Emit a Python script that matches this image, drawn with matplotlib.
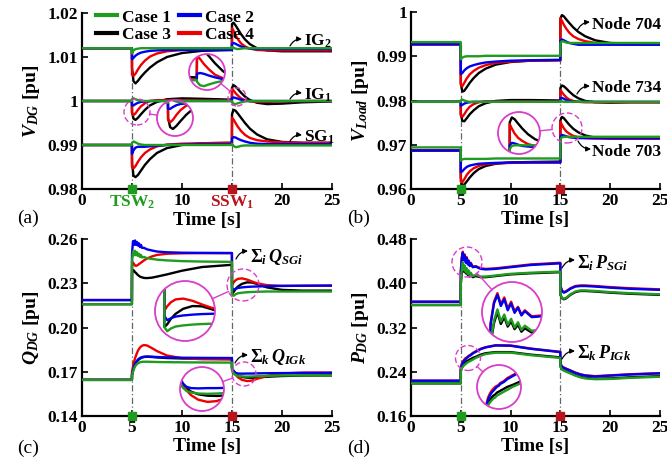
import numpy as np
import matplotlib
matplotlib.use('Agg')
import matplotlib.pyplot as plt
from matplotlib.patches import Circle, Ellipse
from matplotlib.lines import Line2D

plt.rcParams['font.family'] = ['Liberation Serif', 'DejaVu Serif']
plt.rcParams['font.weight'] = 'bold'
plt.rcParams['axes.labelweight'] = 'bold'
plt.rcParams['mathtext.fontset'] = 'custom'
plt.rcParams['mathtext.rm'] = 'Liberation Serif:bold'
plt.rcParams['mathtext.it'] = 'Liberation Serif:italic:bold'
plt.rcParams['mathtext.bf'] = 'Liberation Serif:bold'

# ---------------- data ----------------
cases = ['Case 1', 'Case 2', 'Case 3', 'Case 4']
case_colors = ['#1f9b1f', '#0000ee', '#000000', '#ee0000']

# time samples for panels (a), (b)
t1 = [0, 4.99, 5.0, 5.15, 5.35, 5.6, 5.9, 6.3, 6.8, 7.5, 8.5, 10, 12, 14.99,
      15.0, 15.15, 15.35, 15.6, 15.9, 16.3, 16.8, 17.5, 18.5, 20, 22, 25]

a_ig2 = [
    [1.012, 1.012, 1.0108, 1.0115, 1.0118, 1.0119, 1.012, 1.012, 1.012, 1.012, 1.012, 1.012, 1.012, 1.012,
     1.0123, 1.0121, 1.0119, 1.0118, 1.0119, 1.012, 1.012, 1.012, 1.012, 1.012, 1.012, 1.012],
    [1.012, 1.012, 1.0095, 1.0098, 1.0103, 1.0107, 1.0110, 1.0112, 1.0114, 1.0115, 1.0116, 1.0116, 1.0116, 1.0116,
     1.0130, 1.0132, 1.0130, 1.0127, 1.0124, 1.0121, 1.0119, 1.0118, 1.0118, 1.0118, 1.0118, 1.0118],
    [1.012, 1.012, 1.0075, 1.0045, 1.0040, 1.0046, 1.0055, 1.0065, 1.0076, 1.0088, 1.0100, 1.0109, 1.0114, 1.0116,
     1.0175, 1.0178, 1.0172, 1.0163, 1.0152, 1.0140, 1.0129, 1.0120, 1.0115, 1.0113, 1.0113, 1.0113],
    [1.012, 1.012, 1.0060, 1.0057, 1.0062, 1.0072, 1.0082, 1.0092, 1.0101, 1.0108, 1.0113, 1.0116, 1.0117, 1.0118,
     1.0165, 1.0160, 1.0150, 1.0140, 1.0131, 1.0124, 1.0119, 1.0116, 1.0115, 1.0115, 1.0115, 1.0115],
]
a_ig1 = [
    [1.0, 1.0, 1.0004, 1.0006, 1.0004, 1.0002, 1.0001, 1.0, 1.0, 1.0, 1.0, 1.0, 1.0, 1.0,
     0.9998, 0.9994, 0.9993, 0.9995, 0.9997, 0.9999, 1.0, 1.0, 1.0, 1.0, 1.0, 1.0],
    [1.0, 1.0, 0.9990, 0.9990, 0.9993, 0.9996, 0.9998, 0.9999, 1.0, 1.0, 1.0, 1.0, 1.0, 1.0,
     1.0007, 1.0008, 1.0007, 1.0005, 1.0003, 1.0001, 1.0, 1.0, 1.0, 1.0, 1.0, 1.0],
    [1.0, 1.0, 0.9975, 0.9960, 0.9957, 0.9962, 0.9970, 0.9980, 0.9990, 0.9998, 1.0004, 1.0006, 1.0005, 1.0003,
     1.0030, 1.0036, 1.0033, 1.0027, 1.0019, 1.0010, 1.0002, 0.9996, 0.9993, 0.9994, 0.9997, 0.9999],
    [1.0, 1.0, 0.9972, 0.9968, 0.9972, 0.9980, 0.9988, 0.9995, 1.0, 1.0002, 1.0002, 1.0002, 1.0001, 1.0001,
     1.0028, 1.0024, 1.0018, 1.0012, 1.0006, 1.0002, 0.9999, 0.9998, 0.9998, 0.9999, 1.0, 1.0],
]
a_sg1 = [
    [0.99, 0.99, 0.9905, 0.9908, 0.9906, 0.9903, 0.9901, 0.99, 0.99, 0.99, 0.99, 0.99, 0.99, 0.99,
     0.9903, 0.9898, 0.9895, 0.9896, 0.9898, 0.9899, 0.9899, 0.9899, 0.9899, 0.9899, 0.9899, 0.9899],
    [0.99, 0.99, 0.9880, 0.9888, 0.9894, 0.9896, 0.9896, 0.9896, 0.9897, 0.9898, 0.9900, 0.9901, 0.9902, 0.9902,
     0.9915, 0.9918, 0.9917, 0.9914, 0.9911, 0.9908, 0.9905, 0.9903, 0.9902, 0.9902, 0.9902, 0.9902],
    [0.99, 0.99, 0.9860, 0.9830, 0.9827, 0.9832, 0.9842, 0.9855, 0.9868, 0.9882, 0.9893, 0.9900, 0.9904, 0.9905,
     0.9970, 0.9980, 0.9978, 0.9971, 0.9962, 0.9950, 0.9937, 0.9924, 0.9913, 0.9907, 0.9905, 0.9905],
    [0.99, 0.99, 0.9850, 0.9847, 0.9852, 0.9862, 0.9872, 0.9882, 0.9890, 0.9897, 0.9901, 0.9903, 0.9904, 0.9905,
     0.9962, 0.9958, 0.9950, 0.9941, 0.9932, 0.9923, 0.9916, 0.9911, 0.9908, 0.9906, 0.9905, 0.9905],
]

b_704 = [
    [0.9932, 0.9932, 0.9893, 0.9897, 0.9899, 0.9900, 0.9900, 0.9900, 0.9900, 0.9901, 0.9901, 0.9901, 0.9901, 0.9901,
     0.9930, 0.9934, 0.9933, 0.9931, 0.9930, 0.9930, 0.9930, 0.9930, 0.9930, 0.9930, 0.9930, 0.9930],
    [0.9927, 0.9927, 0.9860, 0.9862, 0.9868, 0.9873, 0.9877, 0.9880, 0.9883, 0.9886, 0.9888, 0.9890, 0.9891, 0.9892,
     0.9935, 0.9938, 0.9936, 0.9933, 0.9930, 0.9928, 0.9926, 0.9926, 0.9926, 0.9926, 0.9926, 0.9926],
    [0.9927, 0.9927, 0.9840, 0.9820, 0.9822, 0.9830, 0.9840, 0.9851, 0.9862, 0.9872, 0.9881, 0.9887, 0.9890, 0.9891,
     0.9985, 0.9993, 0.9990, 0.9983, 0.9975, 0.9965, 0.9955, 0.9945, 0.9936, 0.9930, 0.9928, 0.9927],
    [0.9927, 0.9927, 0.9835, 0.9832, 0.9840, 0.9850, 0.9859, 0.9867, 0.9874, 0.9880, 0.9885, 0.9888, 0.9890, 0.9891,
     0.9986, 0.9980, 0.9971, 0.9962, 0.9953, 0.9945, 0.9939, 0.9934, 0.9930, 0.9928, 0.9927, 0.9927],
]
b_734 = [
    [0.9797, 0.9797, 0.9800, 0.9802, 0.9800, 0.9798, 0.9797, 0.9797, 0.9797, 0.9797, 0.9797, 0.9797, 0.9797, 0.9797,
     0.9799, 0.9798, 0.9797, 0.9797, 0.9797, 0.9797, 0.9797, 0.9797, 0.9797, 0.9797, 0.9797, 0.9797],
    [0.9797, 0.9797, 0.9788, 0.9790, 0.9793, 0.9795, 0.9796, 0.9797, 0.9797, 0.9797, 0.9797, 0.9797, 0.9797, 0.9797,
     0.9805, 0.9806, 0.9804, 0.9801, 0.9799, 0.9797, 0.9797, 0.9797, 0.9797, 0.9797, 0.9797, 0.9797],
    [0.9797, 0.9797, 0.9770, 0.9754, 0.9753, 0.9760, 0.9769, 0.9778, 0.9787, 0.9794, 0.9799, 0.9801, 0.9801, 0.9800,
     0.9828, 0.9834, 0.9832, 0.9827, 0.9820, 0.9812, 0.9805, 0.9799, 0.9796, 0.9795, 0.9796, 0.9796],
    [0.9797, 0.9797, 0.9766, 0.9763, 0.9769, 0.9778, 0.9786, 0.9792, 0.9796, 0.9798, 0.9798, 0.9798, 0.9798, 0.9798,
     0.9823, 0.9819, 0.9813, 0.9807, 0.9802, 0.9799, 0.9797, 0.9796, 0.9796, 0.9796, 0.9796, 0.9796],
]
b_703 = [
    [0.9694, 0.9694, 0.9664, 0.9667, 0.9668, 0.9668, 0.9668, 0.9668, 0.9668, 0.9668, 0.9669, 0.9669, 0.9669, 0.9669,
     0.9712, 0.9717, 0.9718, 0.9718, 0.9718, 0.9718, 0.9718, 0.9718, 0.9718, 0.9718, 0.9718, 0.9718],
    [0.9687, 0.9687, 0.9638, 0.9640, 0.9645, 0.9650, 0.9653, 0.9655, 0.9657, 0.9658, 0.9659, 0.9660, 0.9660, 0.9660,
     0.9718, 0.9722, 0.9721, 0.9719, 0.9717, 0.9716, 0.9715, 0.9715, 0.9715, 0.9715, 0.9715, 0.9715],
    [0.9687, 0.9687, 0.9625, 0.9608, 0.9610, 0.9617, 0.9626, 0.9636, 0.9645, 0.9652, 0.9657, 0.9660, 0.9661, 0.9662,
     0.9755, 0.9763, 0.9760, 0.9753, 0.9745, 0.9736, 0.9728, 0.9721, 0.9716, 0.9714, 0.9714, 0.9714],
    [0.9687, 0.9687, 0.9617, 0.9615, 0.9622, 0.9632, 0.9640, 0.9647, 0.9652, 0.9656, 0.9658, 0.9659, 0.9660, 0.9660,
     0.9752, 0.9745, 0.9737, 0.9730, 0.9725, 0.9720, 0.9717, 0.9715, 0.9714, 0.9714, 0.9714, 0.9714],
]

# time samples for panels (c), (d)
t2 = [0, 4.99, 5.0, 5.1, 5.2, 5.3, 5.4, 5.5, 5.6, 5.7, 5.8, 5.9, 6.0, 6.2, 6.5, 7.0, 7.5, 8.5, 10, 12, 14.99,
      15.0, 15.15, 15.35, 15.6, 16.0, 16.5, 17.0, 17.5, 18.5, 20, 22, 25]

c_sg = [
    [0.2158, 0.2158, 0.2450, 0.2515, 0.2490, 0.2520, 0.2490, 0.2510, 0.2485, 0.2500, 0.2478, 0.2492, 0.2475,
     0.2478, 0.2470, 0.2465, 0.2460, 0.2455, 0.2450, 0.2447, 0.2445,
     0.2230, 0.2215, 0.2225, 0.2232, 0.2236, 0.2239, 0.2241, 0.2242, 0.2244, 0.2244, 0.2244, 0.2244],
    [0.2186, 0.2186, 0.2500, 0.2585, 0.2560, 0.2590, 0.2560, 0.2580, 0.2555, 0.2570, 0.2545, 0.2560, 0.2540,
     0.2540, 0.2530, 0.2522, 0.2515, 0.2510, 0.2507, 0.2506, 0.2505,
     0.2270, 0.2255, 0.2262, 0.2268, 0.2272, 0.2275, 0.2277, 0.2278, 0.2280, 0.2282, 0.2283, 0.2284],
    [0.2158, 0.2158, 0.2370, 0.2390, 0.2385, 0.2375, 0.2370, 0.2362, 0.2355, 0.2350, 0.2345, 0.2342, 0.2340,
     0.2336, 0.2335, 0.2338, 0.2345, 0.2360, 0.2385, 0.2410, 0.2425,
     0.2230, 0.2240, 0.2260, 0.2278, 0.2296, 0.2306, 0.2305, 0.2295, 0.2272, 0.2255, 0.2250, 0.2250],
    [0.2186, 0.2186, 0.2420, 0.2440, 0.2430, 0.2420, 0.2418, 0.2420, 0.2425, 0.2430, 0.2435, 0.2440, 0.2445,
     0.2455, 0.2468, 0.2482, 0.2492, 0.2500, 0.2503, 0.2504, 0.2504,
     0.2290, 0.2305, 0.2320, 0.2330, 0.2333, 0.2325, 0.2312, 0.2300, 0.2287, 0.2282, 0.2283, 0.2284],
]
c_ig = [
    [0.1645, 0.1645, 0.1675, 0.1700, 0.1720, 0.1735, 0.1745, 0.1752, 0.1757, 0.1761, 0.1764, 0.1766, 0.1767,
     0.1768, 0.1768, 0.1767, 0.1766, 0.1765, 0.1764, 0.1763, 0.1762,
     0.1710, 0.1690, 0.1678, 0.1672, 0.1668, 0.1667, 0.1668, 0.1670, 0.1672, 0.1675, 0.1675, 0.1675],
    [0.1645, 0.1645, 0.1680, 0.1710, 0.1735, 0.1752, 0.1765, 0.1775, 0.1783, 0.1789, 0.1793, 0.1797, 0.1799,
     0.1802, 0.1803, 0.1802, 0.1800, 0.1797, 0.1795, 0.1794, 0.1793,
     0.1730, 0.1705, 0.1693, 0.1688, 0.1687, 0.1688, 0.1688, 0.1689, 0.1690, 0.1691, 0.1692, 0.1692],
    [0.1645, 0.1645, 0.1680, 0.1708, 0.1730, 0.1747, 0.1760, 0.1770, 0.1778, 0.1784, 0.1789, 0.1793, 0.1796,
     0.1800, 0.1802, 0.1800, 0.1797, 0.1793, 0.1790, 0.1788, 0.1787,
     0.1725, 0.1705, 0.1688, 0.1675, 0.1665, 0.1660, 0.1659, 0.1661, 0.1666, 0.1671, 0.1674, 0.1675],
    [0.1645, 0.1645, 0.1700, 0.1735, 0.1765, 0.1790, 0.1810, 0.1828, 0.1843, 0.1855, 0.1864, 0.1871, 0.1876,
     0.1881, 0.1878, 0.1860, 0.1840, 0.1810, 0.1792, 0.1785, 0.1783,
     0.1720, 0.1700, 0.1680, 0.1662, 0.1645, 0.1637, 0.1640, 0.1652, 0.1672, 0.1688, 0.1694, 0.1695],
]

d_sg = [
    [0.3607, 0.3607, 0.400, 0.425, 0.438, 0.424, 0.432, 0.420, 0.427, 0.417, 0.423, 0.414, 0.419,
     0.413, 0.415, 0.412, 0.412, 0.414, 0.417, 0.419, 0.421,
     0.380, 0.374, 0.372, 0.374, 0.380, 0.385, 0.387, 0.387, 0.386, 0.384, 0.382, 0.380],
    [0.3666, 0.3666, 0.420, 0.445, 0.455, 0.442, 0.450, 0.437, 0.445, 0.434, 0.440, 0.431, 0.436,
     0.429, 0.430, 0.426, 0.425, 0.426, 0.429, 0.433, 0.436,
     0.395, 0.386, 0.383, 0.385, 0.390, 0.394, 0.395, 0.395, 0.394, 0.392, 0.390, 0.388],
    [0.3607, 0.3607, 0.398, 0.422, 0.435, 0.421, 0.429, 0.418, 0.424, 0.415, 0.420, 0.412, 0.416,
     0.411, 0.413, 0.411, 0.411, 0.413, 0.416, 0.418, 0.420,
     0.379, 0.373, 0.371, 0.373, 0.379, 0.384, 0.386, 0.386, 0.385, 0.383, 0.381, 0.379],
    [0.3666, 0.3666, 0.422, 0.447, 0.457, 0.444, 0.452, 0.439, 0.447, 0.436, 0.441, 0.432, 0.437,
     0.430, 0.431, 0.427, 0.426, 0.427, 0.430, 0.434, 0.437,
     0.396, 0.387, 0.384, 0.386, 0.391, 0.395, 0.396, 0.396, 0.395, 0.393, 0.391, 0.389],
]
d_ig = [
    [0.2190, 0.2190, 0.240, 0.246, 0.249, 0.251, 0.253, 0.254, 0.256, 0.257, 0.258, 0.259, 0.260,
     0.262, 0.265, 0.269, 0.272, 0.2745, 0.2745, 0.270, 0.265,
     0.249, 0.244, 0.242, 0.240, 0.237, 0.233, 0.230, 0.228, 0.2265, 0.227, 0.229, 0.231],
    [0.2238, 0.2238, 0.245, 0.252, 0.256, 0.259, 0.261, 0.263, 0.265, 0.266, 0.268, 0.269, 0.270,
     0.273, 0.276, 0.281, 0.284, 0.2875, 0.287, 0.2815, 0.2755,
     0.255, 0.249, 0.247, 0.245, 0.242, 0.238, 0.235, 0.233, 0.2315, 0.233, 0.235, 0.237],
    [0.2190, 0.2190, 0.242, 0.248, 0.251, 0.254, 0.256, 0.257, 0.259, 0.260, 0.261, 0.262, 0.263,
     0.265, 0.267, 0.271, 0.2735, 0.2755, 0.2755, 0.271, 0.266,
     0.250, 0.245, 0.243, 0.241, 0.238, 0.234, 0.231, 0.229, 0.2275, 0.228, 0.230, 0.232],
    [0.2238, 0.2238, 0.247, 0.254, 0.258, 0.261, 0.263, 0.265, 0.266, 0.267, 0.269, 0.270, 0.271,
     0.274, 0.277, 0.2815, 0.2845, 0.288, 0.2875, 0.282, 0.276,
     0.2555, 0.2495, 0.2475, 0.2455, 0.2425, 0.2385, 0.2355, 0.2335, 0.232, 0.2335, 0.2355, 0.2375],
]

x_ticks = [0, 5, 10, 15, 20, 25]
a_yticks = [0.98, 0.99, 1.0, 1.01, 1.02]
b_yticks = [0.96, 0.97, 0.98, 0.99, 1.0]
c_yticks = [0.14, 0.17, 0.20, 0.23, 0.26]
d_yticks = [0.16, 0.24, 0.32, 0.40, 0.48]
t_events = [5, 15]

# ---------------- figure ----------------
W, H = 667, 465
fig = plt.figure(figsize=(W / 100, H / 100), dpi=100)
MAG = '#d93dc9'
GREEN_EV = '#1f9b1f'
RED_EV = '#b8141c'
ORDER = [2, 3, 1, 0]   # black, red, blue, green on top
LW = 1.7


def make_axes(l, t, r, b):
    return fig.add_axes([l / W, 1 - b / H, (r - l) / W, (b - t) / H])


def px2data(ax, x, y):
    return ax.transData.inverted().transform((x, H - y))


def style(ax, yticks, ylabel, fmt, xlabels=None):
    ax.set_xlim(0, 25)
    ax.set_ylim(yticks[0], yticks[-1])
    ax.set_xticks(x_ticks)
    ax.set_xticklabels(xlabels or [str(v) for v in x_ticks], fontweight='bold')
    ax.set_yticks(yticks)
    ax.set_yticklabels([fmt.format(v) for v in yticks], fontweight='bold')
    for s in ['top', 'right']:
        ax.spines[s].set_visible(False)
    for s in ['left', 'bottom']:
        ax.spines[s].set_linewidth(1.6)
    ax.tick_params(direction='in', length=4, width=1.2, labelsize=12.5, pad=3)
    ax.set_xlabel('Time [s]', fontsize=14, fontweight='bold', labelpad=1)
    ax.set_ylabel(ylabel, fontsize=14, fontweight='bold', labelpad=4)


def draw(ax, t, groups):
    for g in groups:
        for k in ORDER:
            ax.plot(t, g[k], color=case_colors[k], lw=LW, zorder=3)
    y0 = ax.get_ylim()[0]
    for te, col in zip(t_events, [GREEN_EV, RED_EV]):
        i = t.index(te)
        top = max(max(g[k][i - 1], g[k][i]) for g in groups for k in range(4))
        ax.plot([te, te], [y0, top], color='#666666', lw=0.9,
                ls=(0, (5, 2, 1, 2)), zorder=2)
        ax.plot([te], [y0], marker='s', ms=6, color=col, clip_on=False, zorder=8)


def magnify(ax, t, groups, src, dst, view=None):
    sx, sy, sr = src
    dx, dy, dr = dst
    x0, y0 = px2data(ax, sx - sr, sy + sr)
    x1, y1 = px2data(ax, sx + sr, sy - sr)
    ax.add_patch(Ellipse(((x0 + x1) / 2, (y0 + y1) / 2), x1 - x0, y1 - y0, fill=False,
                         ec=MAG, lw=1.0, ls=(0, (4, 2)), zorder=6))
    ins = fig.add_axes([(dx - dr) / W, 1 - (dy + dr) / H, 2 * dr / W, 2 * dr / H])
    if view is None:
        view = ((x0, x1), (y0, y1))
    ins.set_xlim(*view[0])
    ins.set_ylim(*view[1])
    ins.axis('off')
    bg = Circle((0.5, 0.5), 0.5, transform=ins.transAxes, fc='white', ec='none', zorder=0)
    ins.add_patch(bg)
    for g in groups:
        for k in ORDER:
            ln, = ins.plot(t, g[k], color=case_colors[k], lw=LW, zorder=3)
            ln.set_clip_path(bg)
    ins.add_patch(Circle((0.5, 0.5), 0.5, transform=ins.transAxes, fill=False,
                         ec=MAG, lw=1.3, zorder=10, clip_on=False))
    vx, vy = sx - dx, sy - dy
    d = np.hypot(vx, vy)
    ux, uy = vx / d, vy / d
    p0 = (dx + ux * dr, dy + uy * dr)
    p1 = (sx - ux * sr, sy - uy * sr)
    fig.add_artist(Line2D([p0[0] / W, p1[0] / W], [1 - p0[1] / H, 1 - p1[1] / H],
                          transform=fig.transFigure, color=MAG, lw=1.0))


def label(ax, text, x, y, tail, head, size=12.5, rad=-0.3):
    tx, ty = px2data(ax, x, y)
    ax.text(tx, ty, text, fontsize=size, fontweight='bold', ha='left', va='center', zorder=9)
    ax.annotate('', xy=px2data(ax, *head), xytext=px2data(ax, *tail),
                arrowprops=dict(arrowstyle='-|>', lw=0.9, color='k', mutation_scale=7,
                                shrinkA=0, shrinkB=0, connectionstyle='arc3,rad=%g' % rad),
                zorder=9)


# (a)
ax_a = make_axes(82, 13, 332, 189)
style(ax_a, a_yticks, r'$V_{DG}$ [pu]', '{:g}',
      ['0', r'TSW$_\mathbf{2}$', '10', r'SSW$_\mathbf{1}$', '20', '25'])
draw(ax_a, t1, [a_ig2, a_ig1, a_sg1])
ax_a.get_xticklabels()[1].set_color(GREEN_EV)
ax_a.get_xticklabels()[3].set_color(RED_EV)
handles = [Line2D([], [], color=case_colors[k], lw=3) for k in [0, 2, 1, 3]]
ax_a.legend(handles, [cases[k] for k in [0, 2, 1, 3]], ncol=2, loc='upper left',
            bbox_to_anchor=(0.02, 1.07), frameon=False, borderpad=0,
            prop={'size': 12.5, 'weight': 'bold'},
            handlelength=1.2, handletextpad=0.3, columnspacing=0.5, labelspacing=0.1)
label(ax_a, r'IG$_\mathbf{2}$', 304, 41, (290, 46), (302, 39))
label(ax_a, r'IG$_\mathbf{1}$', 304, 95, (290, 99), (302, 93))
label(ax_a, r'SG$_\mathbf{1}$', 304, 137, (290, 141), (302, 135))
magnify(ax_a, t1, [a_ig2, a_ig1, a_sg1], (237, 97, 9), (207, 72, 18))
magnify(ax_a, t1, [a_ig2, a_ig1, a_sg1], (137, 112, 13), (175, 118, 18))

# (b)
ax_b = make_axes(411, 12, 660, 189)
style(ax_b, b_yticks, r'$V_{Load}$ [pu]', '{:g}')
draw(ax_b, t1, [b_704, b_734, b_703])
label(ax_b, 'Node 704', 592, 25, (577, 31), (590, 22))
label(ax_b, 'Node 734', 592, 88, (577, 94), (590, 86))
label(ax_b, 'Node 703', 592, 152, (578, 141), (591, 149), rad=0.3)
magnify(ax_b, t1, [b_704, b_734, b_703], (567, 128, 15), (519, 133, 21))

# (c)
ax_c = make_axes(82, 239, 332, 416)
style(ax_c, c_yticks, r'$Q_{DG}$ [pu]', '{:.2f}')
draw(ax_c, t2, [c_sg, c_ig])
label(ax_c, r'$\Sigma_i\,Q_{SGi}$', 250, 257, (236, 259), (248, 251), size=13)
label(ax_c, r'$\Sigma_k\,Q_{IGk}$', 250, 357, (235, 363), (248, 355), size=13)
magnify(ax_c, t2, [c_sg, c_ig], (243, 285, 16), (185, 311, 30))
magnify(ax_c, t2, [c_sg, c_ig], (244, 374, 12), (202, 389, 22))

# (d)
ax_d = make_axes(411, 239, 660, 416)
style(ax_d, d_yticks, r'$P_{DG}$ [pu]', '{:.2f}')
draw(ax_d, t2, [d_sg, d_ig])
label(ax_d, r'$\Sigma_i\,P_{SGi}$', 577, 263, (562, 268), (575, 260), size=13)
label(ax_d, r'$\Sigma_k\,P_{IGk}$', 577, 353, (562, 359), (575, 351), size=13)
magnify(ax_d, t2, [d_sg, d_ig], (467, 262, 15), (512, 312, 30),
        view=((4.75, 6.5), (0.400, 0.470)))
magnify(ax_d, t2, [d_sg, d_ig], (468, 358, 12.5), (499, 387, 22))

for s, (x, y) in zip(['(a)', '(b)', '(c)', '(d)'], [(17, 218), (347, 218), (17, 448), (347, 448)]):
    fig.text(x / W, 1 - y / H, s, fontsize=14, fontweight='normal', ha='left', va='center')

fig.savefig('out.png', dpi=100)
